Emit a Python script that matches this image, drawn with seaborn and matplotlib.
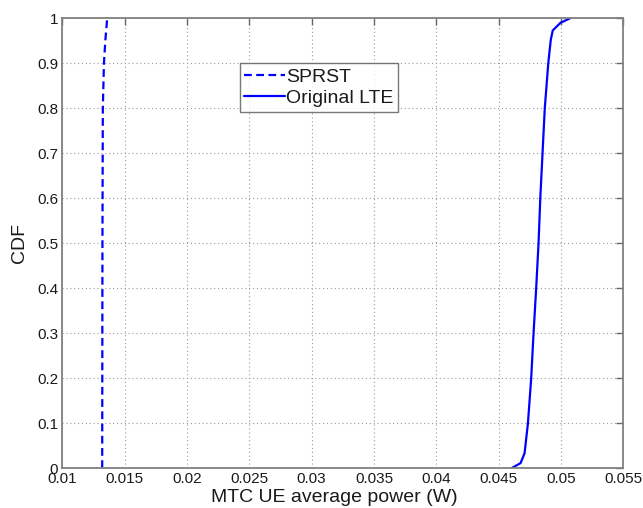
import matplotlib
matplotlib.use("Agg")
import matplotlib.pyplot as plt
import seaborn as sns
import pandas as pd

# CDF of MTC UE average power (W) for the two schemes
cdf_levels_sprst = [0.0, 0.5, 0.8, 0.9, 0.95, 1.0]
power_sprst = [0.01320, 0.01322, 0.01325, 0.01334, 0.01345, 0.01360]

cdf_levels_lte = [0.0, 0.011, 0.033, 0.1, 0.2, 0.3, 0.4, 0.5, 0.6, 0.7, 0.8,
                  0.9, 0.952, 0.973, 0.99, 1.0]
power_lte = [0.04606, 0.04676, 0.04708, 0.04735, 0.04761, 0.04780, 0.04801,
             0.04820, 0.04834, 0.04852, 0.04870, 0.04898, 0.04918, 0.04934,
             0.04996, 0.05073]

x_ticks = [0.01, 0.015, 0.02, 0.025, 0.03, 0.035, 0.04, 0.045, 0.05, 0.055]
x_tick_labels = ["0.01", "0.015", "0.02", "0.025", "0.03", "0.035", "0.04",
                 "0.045", "0.05", "0.055"]
y_ticks = [0, 0.1, 0.2, 0.3, 0.4, 0.5, 0.6, 0.7, 0.8, 0.9, 1]
y_tick_labels = ["0", "0.1", "0.2", "0.3", "0.4", "0.5", "0.6", "0.7", "0.8",
                 "0.9", "1"]

df = pd.concat([
    pd.DataFrame({"power": power_sprst, "cdf": cdf_levels_sprst, "scheme": "SPRST"}),
    pd.DataFrame({"power": power_lte, "cdf": cdf_levels_lte, "scheme": "Original LTE"}),
], ignore_index=True)

sns.set_style("white")
plt.rcParams["font.family"] = ["Liberation Sans", "DejaVu Sans"]

fig = plt.figure(figsize=(6.43, 5.08), dpi=100)
ax = fig.add_axes([0.0969, 0.0787, 0.8725, 0.8853])

sns.lineplot(data=df, x="power", y="cdf", hue="scheme", style="scheme",
             palette={"SPRST": "#0000ff", "Original LTE": "#0000ff"},
             dashes={"SPRST": (3.5, 2), "Original LTE": ""},
             sort=False, estimator=None, linewidth=1.6, ax=ax)

ax.set_xlim(0.01, 0.055)
ax.set_ylim(0, 1)
ax.set_xticks(x_ticks)
ax.set_xticklabels(x_tick_labels)
ax.set_yticks(y_ticks)
ax.set_yticklabels(y_tick_labels)
ax.tick_params(direction="in", length=5, width=1, color="#666666",
               labelsize=11, top=True, right=True, pad=3, labelcolor="#1a1a1a")
ax.grid(True, linestyle=(0, (1, 2.5)), color="#9a9a9a", linewidth=0.8)
for s in ax.spines.values():
    s.set_color("#808080")
    s.set_linewidth(1.3)

ax.set_xlabel("MTC UE average power (W)", fontsize=14, color="#1a1a1a")
ax.xaxis.set_label_coords(0.484, -0.046)
ax.set_ylabel("CDF", fontsize=14, color="#1a1a1a")
ax.yaxis.set_label_coords(-0.062, 0.5)

leg = ax.legend(title=None, loc="upper left", bbox_to_anchor=(0.316, 0.9),
                fontsize=14, frameon=True, fancybox=False, borderpad=0.25,
                handlelength=2.1, handletextpad=0.05, labelspacing=0.2,
                borderaxespad=0)
leg.get_frame().set_edgecolor("#555555")
leg.get_frame().set_linewidth(1.0)
for t in leg.get_texts():
    t.set_color("#1a1a1a")

fig.savefig("out.png", dpi=100)
